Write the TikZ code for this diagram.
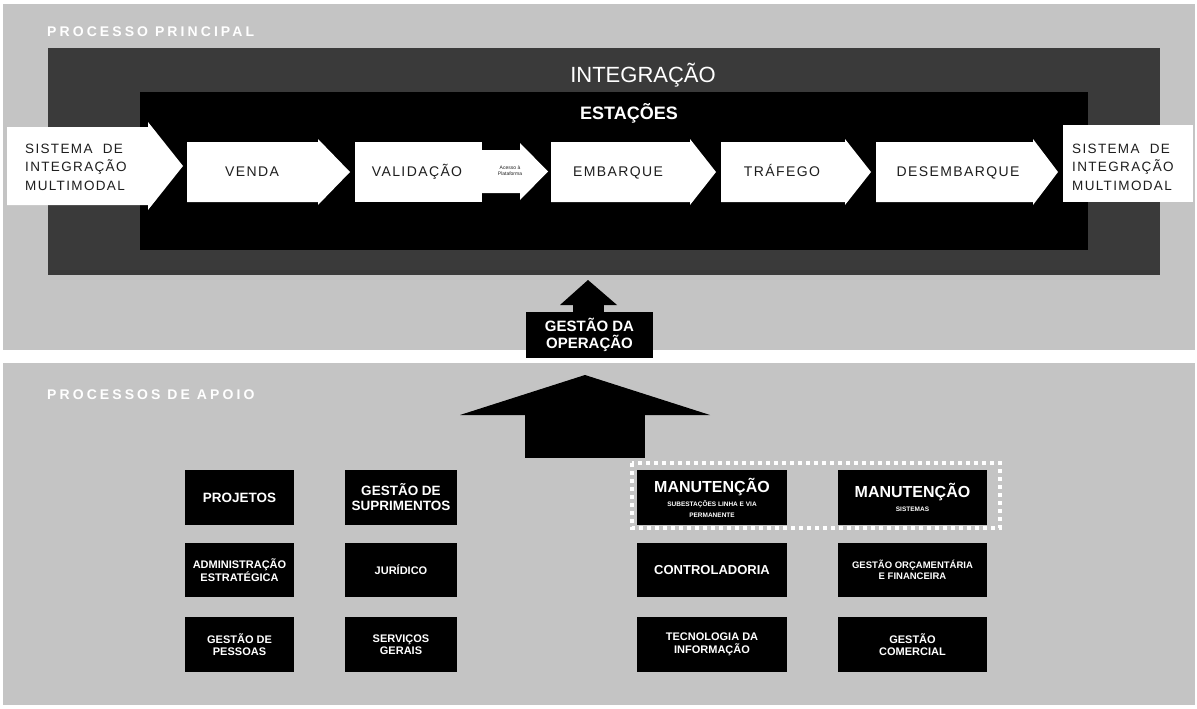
\documentclass[tikz,border=0pt]{standalone}
\usepackage{fontspec}
\setmainfont{Liberation Sans}
\newfontfamily\widefont[LetterSpace=10]{Liberation Sans}
\newfontfamily\labelfont[LetterSpace=22]{Liberation Sans}
\definecolor{bggray}{RGB}{196,196,196}
\definecolor{darkgray}{RGB}{58,58,58}
\definecolor{txtgray}{RGB}{30,30,30}
\newcommand\chev[6]{\fill[white] (#1,#4) -- (#2,#4) -- (#2,{#4-#6}) -- (#3,{(#4+#5)/2}) -- (#2,{#5+#6}) -- (#2,#5) -- (#1,#5) -- cycle;}
\newcommand\tinyfs{\fontsize{6.5}{7.5}\selectfont}
\begin{document}
\begin{tikzpicture}[x=1pt,y=-1pt,
  seclabel/.style={text=white, font=\labelfont\bfseries\fontsize{14}{14}\selectfont, anchor=west, inner sep=0pt},
  steptxt/.style={text=txtgray, font=\widefont\fontsize{14}{14}\selectfont, inner sep=0pt, anchor=base},
  systxt/.style={text=txtgray, font=\widefont\fontsize{13.5}{18.5}\selectfont, align=left, inner sep=0pt},
  apbox/.style={fill=black, text=white, align=center, inner sep=0pt, font=\bfseries\fontsize{11}{12.5}\selectfont},
  bigbox/.style={apbox, font=\bfseries\fontsize{13.5}{15}\selectfont},
]
\useasboundingbox (0,0) rectangle (1197,709);
\fill[white] (0,0) rectangle (1197,709);
% bands
\fill[bggray] (3,4) rectangle (1195,350);
\fill[bggray] (3,363) rectangle (1195,705);
\node[seclabel] (principal) at (47,32) {PROCESSO PRINCIPAL};
\node[seclabel] (apoio) at (47,395) {PROCESSOS DE APOIO};
% integration and stations
\fill[darkgray] (48,48) rectangle (1160,275);
\fill[black] (140,92) rectangle (1088,250);
\node[text=white, font=\fontsize{22}{22}\selectfont, inner sep=0pt] (integ) at (643,75) {INTEGRAÇÃO};
\node[text=white, font=\bfseries\fontsize{18}{18}\selectfont, inner sep=0pt] (estac) at (629,113) {ESTAÇÕES};
% arrows
\chev{7}{148}{183}{127}{205}{5}
\chev{187}{318}{350}{142}{202}{3}
\fill[white] (355,142) rectangle (482,202);
\chev{482}{520}{548}{150}{193}{7}
\chev{551}{690}{716}{142}{202}{3}
\chev{721}{845}{871}{142}{202}{3}
\chev{876}{1033}{1058}{142}{202}{3}
\fill[white] (1063,125) rectangle (1193,202);
\node[systxt, anchor=west] (sisL) at (25,167) {SISTEMA\ \ DE\\INTEGRAÇÃO\\MULTIMODAL};
\node[steptxt] (venda) at (252,176) {VENDA};
\node[steptxt] (valid) at (417,176) {VALIDAÇÃO};
\node[text=txtgray, font=\fontsize{5}{6}\selectfont, align=center, inner sep=0pt] (acesso) at (510,171) {Acesso à\\Plataforma};
\node[steptxt] (embar) at (618,176) {EMBARQUE};
\node[steptxt] (trafe) at (782,176) {TRÁFEGO};
\node[steptxt] (desemb) at (958,176) {DESEMBARQUE};
\node[systxt, anchor=west] (sisR) at (1072,167) {SISTEMA\ \ DE\\INTEGRAÇÃO\\MULTIMODAL};
% gestao da operacao
\fill[black] (573,300) rectangle (604,315);
\fill[black] (560,305) -- (588,280) -- (617,305) -- cycle;
\node[fill=black, text=white, font=\bfseries\fontsize{15}{17}\selectfont, align=center, minimum width=127, minimum height=46, inner sep=0pt] (gestop) at (589.5,335) {GESTÃO DA\\OPERAÇÃO};
% big arrow
\fill[black] (525,412) rectangle (645,458);
\fill[black] (460,415) -- (585,375) -- (710,415) -- cycle;
% support boxes
\node[bigbox, minimum width=109, minimum height=55] (projetos) at (239.5,497.5) {PROJETOS};
\node[bigbox, minimum width=112, minimum height=55] (suprim) at (401,497.5) {GESTÃO DE\\SUPRIMENTOS};
\draw[white, line width=4, dash pattern=on 4 off 4] (632,463) rectangle (1000,528);
\node[bigbox, minimum width=150, minimum height=55, font=\bfseries\fontsize{16}{15}\selectfont] (manut1) at (712,497.5) {MANUTENÇÃO\\[-1pt]\tinyfs SUBESTAÇÕES LINHA E VIA\\[-4pt]\tinyfs PERMANENTE};
\node[bigbox, minimum width=149, minimum height=55, font=\bfseries\fontsize{16}{15}\selectfont] (manut2) at (912.5,497.5) {MANUTENÇÃO\\[-1pt]\tinyfs SISTEMAS};
\node[apbox, minimum width=109, minimum height=54] (admin) at (239.5,570) {ADMINISTRAÇÃO\\ESTRATÉGICA};
\node[apbox, minimum width=112, minimum height=54] (jurid) at (401,570) {JURÍDICO};
\node[apbox, minimum width=150, minimum height=54, font=\bfseries\fontsize{13}{14}\selectfont] (control) at (712,570) {CONTROLADORIA};
\node[apbox, minimum width=149, minimum height=54, font=\bfseries\fontsize{9.5}{11.5}\selectfont] (orcam) at (912.5,570) {GESTÃO ORÇAMENTÁRIA\\E FINANCEIRA};
\node[apbox, minimum width=109, minimum height=55] (pessoas) at (239.5,644.5) {GESTÃO DE\\PESSOAS};
\node[apbox, minimum width=112, minimum height=55] (servic) at (401,644.5) {SERVIÇOS\\GERAIS};
\node[apbox, minimum width=150, minimum height=55] (tecno) at (712,644.5) {TECNOLOGIA DA\\INFORMAÇÃO};
\node[apbox, minimum width=149, minimum height=55] (comerc) at (912.5,644.5) {GESTÃO\\COMERCIAL};
\end{tikzpicture}
\end{document}
